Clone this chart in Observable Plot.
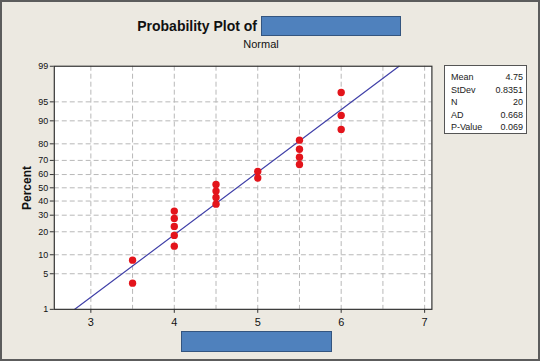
<!DOCTYPE html>
<html>
<head>
<meta charset="utf-8">
<script src="https://cdn.jsdelivr.net/npm/d3@7"></script>
<script src="https://cdn.jsdelivr.net/npm/@observablehq/plot@0.6"></script>
<style>
  html, body { margin: 0; padding: 0; background: #ECE9E1; }
  #wrap { position: relative; width: 540px; height: 361px; box-sizing: border-box;
          border: 2px solid #5c5c5c; background: #ECE9E1; overflow: hidden;
          font-family: "Liberation Sans", Arial, sans-serif; }
  #chart { position: absolute; left: -2px; top: -2px; }
  .abs { position: absolute; }
  #title { left: 0; width: 255px; top: 16px; text-align: right; font-weight: bold; font-size: 14px; color: #111; }
  #subtitle { left: 200px; width: 118px; top: 36px; text-align: center; font-size: 11px; color: #111; }
  .redact { background: #4F81BD; border: 1px solid #34557f; box-sizing: border-box; }
  #ylabel { left: -3px; top: 179px; width: 56px; text-align: center; font-weight: bold; font-size: 12px;
            transform: rotate(-90deg); color: #111; }
  #stats { left: 442px; top: 63px; width: 83px; height: 69px; background: #fff; border: 1px solid #555;
           box-sizing: border-box; font-size: 9px; color: #222; padding: 5px 3px 0 6px; }
  #stats div { display: flex; justify-content: space-between; height: 12.5px; line-height: 12.5px; }
</style>
</head>
<body>
<div id="wrap">
  <div id="chart"></div>
  <div id="title" class="abs">Probability Plot of</div>
  <div class="abs redact" style="left:259px; top:14px; width:140px; height:20px;"></div>
  <div id="subtitle" class="abs">Normal</div>
  <div id="ylabel" class="abs">Percent</div>
  <div class="abs redact" style="left:179px; top:329px; width:151px; height:21px;"></div>
  <div id="stats" class="abs"></div>
</div>
<script>
// ---- data ----
const xValues   = [3.5, 3.5, 4, 4, 4, 4, 4, 4.5, 4.5, 4.5, 4.5, 5, 5, 5.5, 5.5, 5.5, 5.5, 6, 6, 6];
const pctValues = [3.4, 8.3, 13.2, 18.1, 23.0, 27.9, 32.8, 37.7, 42.6, 47.5, 52.5, 57.4, 62.3, 67.2, 72.1, 77.0, 81.9, 86.8, 91.7, 96.6];
const fitX   = [2.807, 6.693];
const fitPct = [1, 99];
const xTicks = [3, 4, 5, 6, 7];
const xGrid  = [3, 3.5, 4, 4.5, 5, 5.5, 6, 6.5, 7];
const yTicks = [1, 5, 10, 20, 30, 40, 50, 60, 70, 80, 90, 95, 99];
const yGrid  = [5, 10, 20, 30, 40, 50, 60, 70, 80, 90, 95];
const statLabels = ["Mean", "StDev", "N", "AD", "P-Value"];
const statValues = ["4.75", "0.8351", "20", "0.668", "0.069"];

// inverse standard normal CDF (Acklam) used as the probability-scale transform
function probit(p) {
  const a = [-3.969683028665376e+01, 2.209460984245205e+02, -2.759285104469687e+02, 1.383577518672690e+02, -3.066479806614716e+01, 2.506628277459239e+00];
  const b = [-5.447609879822406e+01, 1.615858368580409e+02, -1.556989798598866e+02, 6.680131188771972e+01, -1.328068155288572e+01];
  const c = [-7.784894002430293e-03, -3.223964580411365e-01, -2.400758277161838e+00, -2.549732539343734e+00, 4.374664141464968e+00, 2.938163982698783e+00];
  const d = [7.784695709041462e-03, 3.224671290700398e-01, 2.445134137142996e+00, 3.754408661907416e+00];
  const pl = 0.02425, ph = 1 - pl;
  let q, r;
  if (p < pl) { q = Math.sqrt(-2 * Math.log(p));
    return (((((c[0]*q+c[1])*q+c[2])*q+c[3])*q+c[4])*q+c[5]) / ((((d[0]*q+d[1])*q+d[2])*q+d[3])*q+1); }
  if (p > ph) { q = Math.sqrt(-2 * Math.log(1 - p));
    return -(((((c[0]*q+c[1])*q+c[2])*q+c[3])*q+c[4])*q+c[5]) / ((((d[0]*q+d[1])*q+d[2])*q+d[3])*q+1); }
  q = p - 0.5; r = q * q;
  return (((((a[0]*r+a[1])*r+a[2])*r+a[3])*r+a[4])*r+a[5])*q / (((((b[0]*r+b[1])*r+b[2])*r+b[3])*r+b[4])*r+1);
}
const z = p => probit(p / 100);

const points = xValues.map((x, i) => ({x, p: pctValues[i]}));
const fit = fitX.map((x, i) => ({x, p: fitPct[i]}));
const zTicks = yTicks.map(z);
const fmtY = v => { let best = 0; zTicks.forEach((t, i) => { if (Math.abs(t - v) < Math.abs(zTicks[best] - v)) best = i; }); return String(yTicks[best]); };

const chart = Plot.plot({
  width: 540, height: 361,
  marginLeft: 54, marginRight: 107, marginTop: 66, marginBottom: 51,
  style: {background: "transparent", fontFamily: "Liberation Sans, Arial, sans-serif", color: "#111", overflow: "visible"},
  x: {domain: [2.562, 7.087]},
  y: {domain: [z(1), z(99)]},
  marks: [
    Plot.frame({fill: "white"}),
    Plot.ruleX(xGrid, {x: d => d, stroke: "#b8b8b8", strokeDasharray: "5,3", strokeWidth: 1}),
    Plot.ruleY(yGrid, {y: d => z(d), stroke: "#b8b8b8", strokeDasharray: "5,3", strokeWidth: 1}),
    Plot.line(fit, {x: "x", y: d => z(d.p), stroke: "#4040a8", strokeWidth: 1.2}),
    Plot.dot(points, {x: "x", y: d => z(d.p), r: 3.7, fill: "#e3141b", stroke: "none"}),
    Plot.frame({stroke: "#333", strokeWidth: 1.2}),
    Plot.axisX(xTicks, {tickSize: 4, tickPadding: 5, fontSize: 11, label: null, stroke: "#333"}),
    Plot.axisY(zTicks, {tickSize: 4, tickPadding: 2, fontSize: 9, label: null, tickFormat: fmtY, stroke: "#333"})
  ]
});
document.getElementById("chart").appendChild(chart);

const stats = document.getElementById("stats");
statLabels.forEach((l, i) => {
  const row = document.createElement("div");
  row.innerHTML = `<span>${l}</span><span>${statValues[i]}</span>`;
  stats.appendChild(row);
});
</script>
</body>
</html>
